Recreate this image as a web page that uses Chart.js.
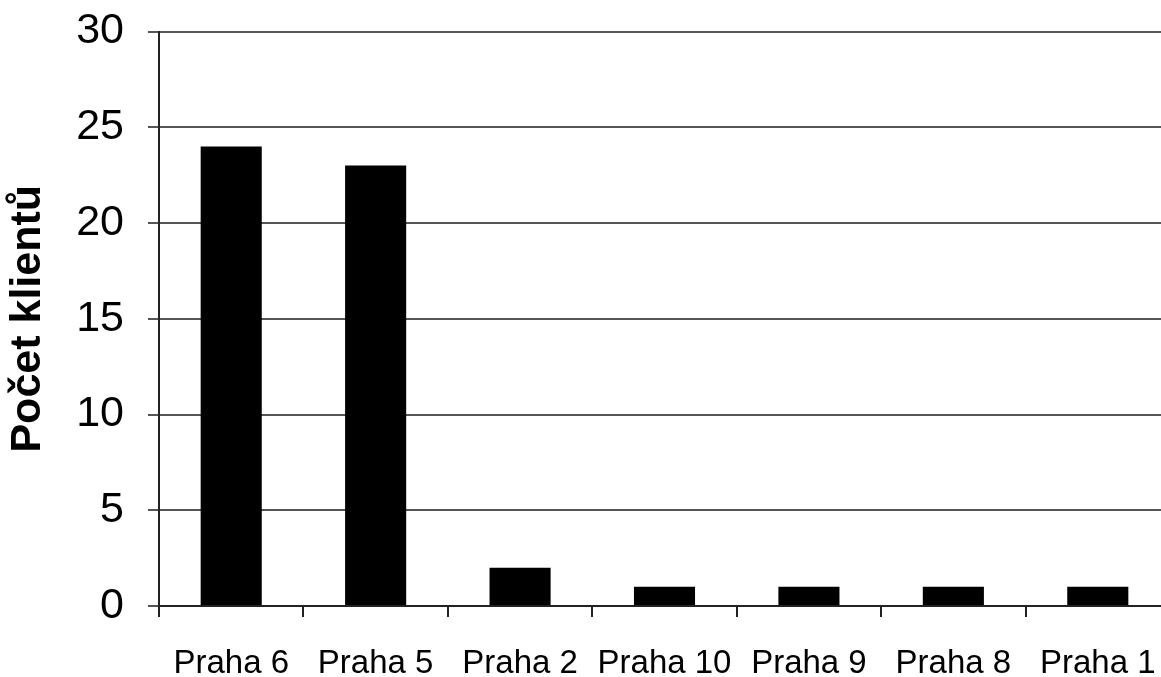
<!DOCTYPE html>
<html>
<head>
<meta charset="utf-8">
<script src="https://cdn.jsdelivr.net/npm/chart.js@4.4.1/dist/chart.umd.min.js"></script>
<style>
html,body{margin:0;padding:0;background:#fff;overflow:hidden;}
#wrap{position:relative;width:1170px;height:677px;}
</style>
</head>
<body>
<div id="wrap"><canvas id="c"></canvas></div>
<script>
const categories = ["Praha 6","Praha 5","Praha 2","Praha 10","Praha 9","Praha 8","Praha 1"];
const clients = [24, 23, 2, 1, 1, 1, 1];
const yTitle = "Počet klientů";

const ctx = document.getElementById('c').getContext('2d');
new Chart(ctx, {
  type: 'bar',
  data: {
    labels: categories,
    datasets: [{
      data: clients,
      backgroundColor: '#000',
      borderWidth: 0,
      categoryPercentage: 1,
      barPercentage: 0.423
    }]
  },
  options: {
    responsive: true,
    maintainAspectRatio: false,
    animation: false,
    layout: { padding: { top: 31.5, right: 0, bottom: 0, left: 0 } },
    plugins: { legend: { display: false }, tooltip: { enabled: false } },
    scales: {
      x: {
        offset: true,
        grid: { display: true, drawOnChartArea: false, drawTicks: true, tickLength: 11, color: '#222', lineWidth: 2, offset: true },
        border: { display: true, color: '#222', width: 2 },
        ticks: { color: '#000', font: { family: 'Liberation Sans', size: 33 }, padding: 27, maxRotation: 0, autoSkip: false },
        afterFit: (s) => { s.height = 71; s.paddingLeft = 0; s.paddingRight = 0; }
      },
      y: {
        min: 0, max: 30,
        ticks: { stepSize: 5, color: '#000', font: { family: 'Liberation Sans', size: 43 }, padding: 24 },
        grid: { color: '#555', lineWidth: 2, tickLength: 11, drawTicks: true },
        border: { display: true, color: '#222', width: 2 },
        title: { display: true, text: yTitle, color: '#000', font: { family: 'Liberation Sans', size: 43, weight: 'bold' }, padding: { top: 2, bottom: 0 } },
        afterFit: (s) => { s.width = 159; s.paddingTop = 0; s.paddingBottom = 0; }
      }
    }
  }
});
</script>
</body>
</html>
